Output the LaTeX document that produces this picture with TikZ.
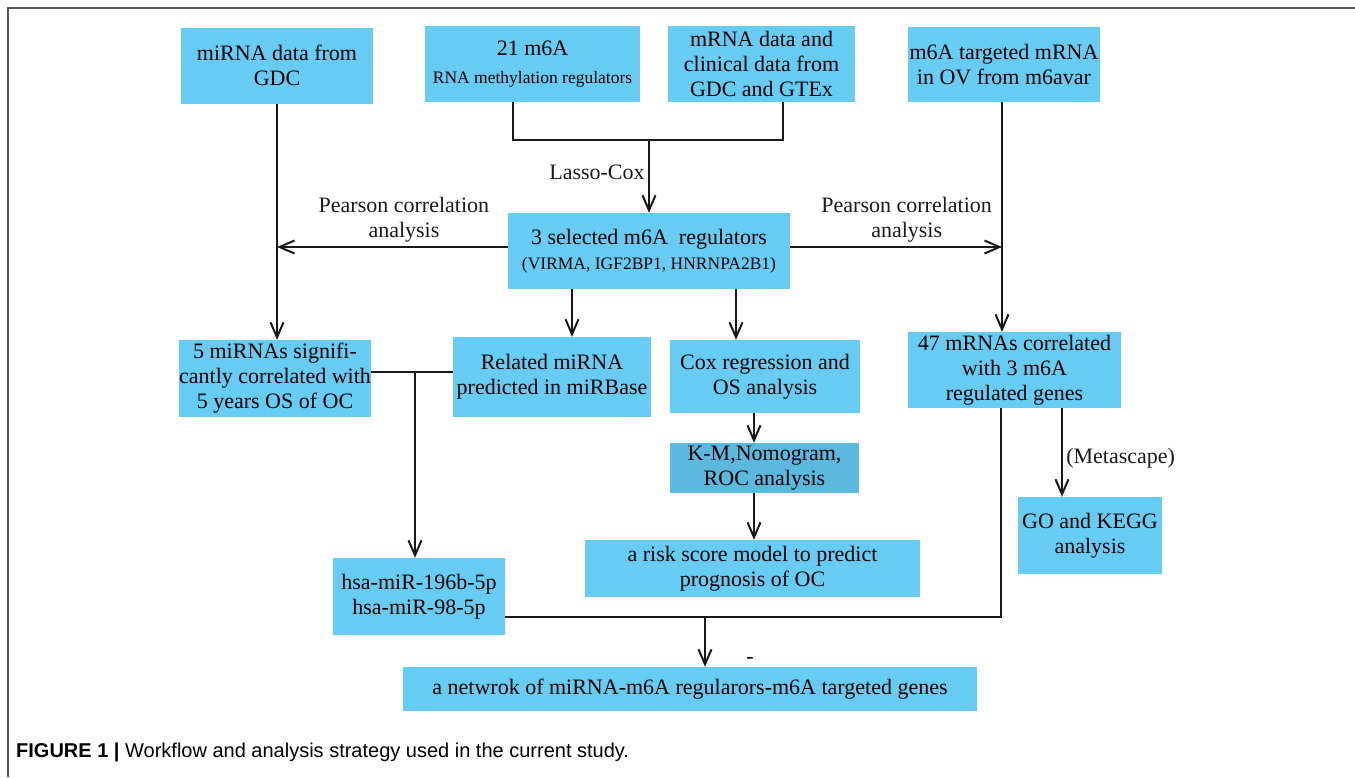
\documentclass[tikz,border=0pt]{standalone}
\usepackage{fontspec}
\setmainfont{Liberation Serif}
\setsansfont{Liberation Sans}
\usetikzlibrary{arrows.meta}

\definecolor{boxblue}{HTML}{66CCF3}
\definecolor{kmblue}{HTML}{5BB9E0}
\definecolor{framegray}{HTML}{555555}

\tikzset{
  box/.style={fill=boxblue, inner sep=0pt, align=center,
    font=\fontsize{22}{25}\selectfont},
  lbl/.style={align=center, font=\fontsize{22}{25}\selectfont},
  conn/.style={line width=2pt, black!90},
  arr/.style={conn, -{Straight Barb[length=15pt,width=13pt,line width=2pt]}}
}
\newcommand{\smalltxt}{\fontsize{17.5}{21}\selectfont}

\begin{document}
\begin{tikzpicture}[x=1pt,y=-1pt]
        \useasboundingbox (0,0) rectangle (1355,777);

        % frame
        \draw[framegray, line width=1.6pt] (8,777) -- (8,8) -- (1355,8);

        \begin{scope}[every node/.style={box}]
          \node[minimum width=192pt, minimum height=76pt] (gdc)     at (277,65.5)  {miRNA data from\\GDC};
          \node[minimum width=215pt, minimum height=76pt] (regs21)  at (532.5,64)  {21 m6A\\[3pt]{\smalltxt RNA methylation regulators}};
          \node[minimum width=187pt, minimum height=76pt] (mrna)    at (761.5,64)  {mRNA data and\\clinical data from\\GDC and GTEx};
          \node[minimum width=192pt, minimum height=75pt] (target)  at (1004,64.5) {m6A targeted mRNA\\in OV from m6avar};
          \node[minimum width=282pt, minimum height=76pt] (sel3)    at (649,251)   {3 selected m6A\ \ regulators\\{\smalltxt (VIRMA, IGF2BP1, HNRNPA2B1)}};
          \node[minimum width=192pt, minimum height=77pt] (mir5)    at (275,378.5) {5 miRNAs signifi-\\cantly correlated with\\5 years OS of OC};
          \node[minimum width=198pt, minimum height=80pt] (related) at (552,377)   {Related miRNA\\predicted in miRBase};
          \node[minimum width=190pt, minimum height=73pt] (cox)     at (765,376.5) {Cox regression and\\OS analysis};
          \node[minimum width=213pt, minimum height=76pt] (mrna47)  at (1014.5,370) {47 mRNAs correlated\\with 3 m6A\\regulated genes};
          \node[minimum width=189pt, minimum height=50pt, fill=kmblue] (km) at (764.5,468) {K-M,Nomogram,\\ROC analysis};
          \node[minimum width=335pt, minimum height=57pt] (risk)    at (752.5,568.5) {a risk score model to predict\\prognosis of OC};
          \node[minimum width=144pt, minimum height=77pt] (gokegg)  at (1090,535.5) {GO and KEGG\\analysis};
          \node[minimum width=172pt, minimum height=77pt] (hsa)     at (419,596.5) {hsa-miR-196b-5p\\hsa-miR-98-5p};
          \node[minimum width=574pt, minimum height=44pt] (network) at (690,689)   {a netwrok of miRNA-m6A regularors-m6A targeted genes};
        \end{scope}

        \node[lbl] (dash) at (750,660) {-};

        \coordinate (merge)   at (649,140);
        \coordinate (tgtline) at ([xshift=-2pt]target.south);
        \coordinate (mirjoin) at (415,371);
        \coordinate (netjoin) at (705,617);

        % inputs to the selected regulators
        \draw[conn] ([xshift=-19.5pt]regs21.south) |- (merge) -| ([xshift=21.5pt]mrna.south);
        \draw[arr] (merge) -- node[lbl, left, pos=0.45] {Lasso-Cox} (sel3.north);

        % correlation branches
        \draw[arr] (gdc.south) -- (gdc.south |- mir5.north);
        \draw[arr] (tgtline) -- (tgtline |- mrna47.north);
        \draw[arr] ([yshift=4pt]sel3.west) -- node[lbl, above, pos=0.45] {Pearson correlation\\analysis} ([yshift=4pt]sel3.west -| gdc.south);
        \draw[arr] ([yshift=4pt]sel3.east) -- node[lbl, above, pos=0.55] {Pearson correlation\\analysis} ([yshift=4pt]sel3.east -| tgtline);

        % middle column
        \draw[arr] ([xshift=-77pt]sel3.south) -- ([xshift=-77pt]sel3.south |- related.north);
        \draw[arr] ([xshift=87pt]sel3.south) -- ([xshift=87pt]sel3.south |- cox.north);
        \draw[arr] ([xshift=-11pt]cox.south) -- ([xshift=-11pt]cox.south |- km.north);
        \draw[arr] ([xshift=-10.5pt]km.south) -- ([xshift=-10.5pt]km.south |- risk.north);
        \draw[arr] ([xshift=47.5pt]mrna47.south) -- node[lbl, right, pos=0.56] {(Metascape)} ([xshift=47.5pt]mrna47.south |- gokegg.north);

        % miRNA candidates
        \draw[conn] ([yshift=7pt]mir5.east) -- ([yshift=7pt]mir5.east -| related.west);
        \draw[arr] (mirjoin) -- (mirjoin |- hsa.north);

        % network
        \draw[conn] ([yshift=-20.5pt]hsa.east) -| ([xshift=-13.5pt]mrna47.south);
        \draw[arr] (netjoin) -- (netjoin |- network.north);

        % caption
        \node[anchor=base west, inner sep=0pt, font=\sffamily\fontsize{20}{24}\selectfont] (caption) at (16,757)
          {\textbf{FIGURE 1 |} Workflow and analysis strategy used in the current study.};

      \end{tikzpicture}
\end{document}
